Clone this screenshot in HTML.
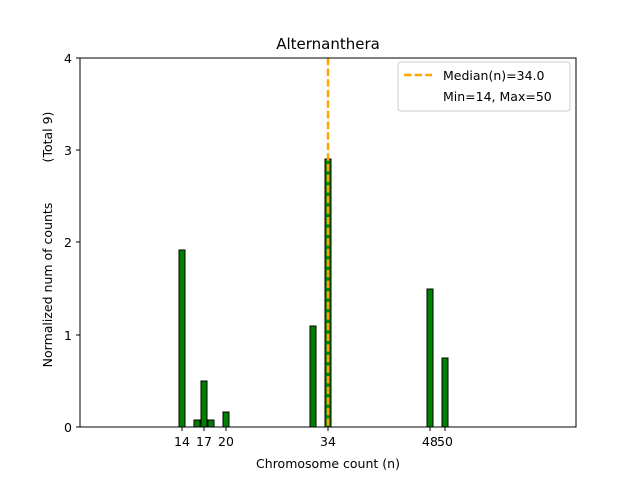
<!DOCTYPE html>
<html><head><meta charset="utf-8"><style>body{margin:0;background:#fff}svg{display:block}text{font-family:"DejaVu Sans","Liberation Sans",sans-serif;fill:#000}</style></head>
<body>
<svg width="640" height="480" viewBox="0 0 640 480" xmlns="http://www.w3.org/2000/svg">
<rect width="640" height="480" fill="#fff"/>
<g fill="#008000" stroke="#000" stroke-width="1">
<rect x="179" y="250" width="6" height="177"/>
<rect x="194" y="420" width="6" height="7"/>
<rect x="201" y="381" width="6" height="46"/>
<rect x="208" y="420" width="6" height="7"/>
<rect x="223" y="412" width="6" height="15"/>
<rect x="310" y="326" width="6" height="101"/>
<rect x="325" y="159" width="6" height="268"/>
<rect x="427" y="289" width="6" height="138"/>
<rect x="442" y="358" width="6" height="69"/>
</g>
<line x1="328" y1="58" x2="328" y2="427" stroke="#FFA500" stroke-width="2.5" stroke-dasharray="7.4,3.2"/>
<rect x="80" y="58" width="496" height="369" fill="none" stroke="#000" stroke-width="1"/>
<g stroke="#000" stroke-width="1">
<line x1="76" y1="58" x2="80" y2="58"/><line x1="76" y1="150" x2="80" y2="150"/><line x1="76" y1="242" x2="80" y2="242"/><line x1="76" y1="335" x2="80" y2="335"/><line x1="76" y1="427" x2="80" y2="427"/>
<line x1="182" y1="427" x2="182" y2="431"/><line x1="204" y1="427" x2="204" y2="431"/><line x1="226" y1="427" x2="226" y2="431"/><line x1="328" y1="427" x2="328" y2="431"/><line x1="430" y1="427" x2="430" y2="431"/><line x1="445" y1="427" x2="445" y2="431"/>
</g>
<g font-size="12.5" text-anchor="end">
<text x="72" y="63">4</text><text x="72" y="155">3</text><text x="72" y="247">2</text><text x="72" y="340">1</text><text x="72" y="432">0</text>
</g>
<g font-size="12.5" text-anchor="middle">
<text x="182" y="446">14</text><text x="204" y="446">17</text><text x="226" y="446">20</text><text x="328" y="446">34</text><text x="430" y="446">48</text><text x="445" y="446">50</text>
<text x="328" y="468">Chromosome count (n)</text>
<text x="328" y="49" font-size="15">Alternanthera</text>
<text transform="translate(52,285) rotate(-90)">Normalized num of counts</text>
<text transform="translate(52,137) rotate(-90)">(Total 9)</text>
</g>
<rect x="398" y="62" width="172" height="49" rx="3" fill="#fff" stroke="#ccc" stroke-width="1"/>
<line x1="404" y1="75" x2="432" y2="75" stroke="#FFA500" stroke-width="2.5" stroke-dasharray="7.4,3.2"/>
<text x="443" y="80" font-size="12.5">Median(n)=34.0</text>
<text x="443" y="101" font-size="12.5">Min=14, Max=50</text>
</svg>
</body></html>
